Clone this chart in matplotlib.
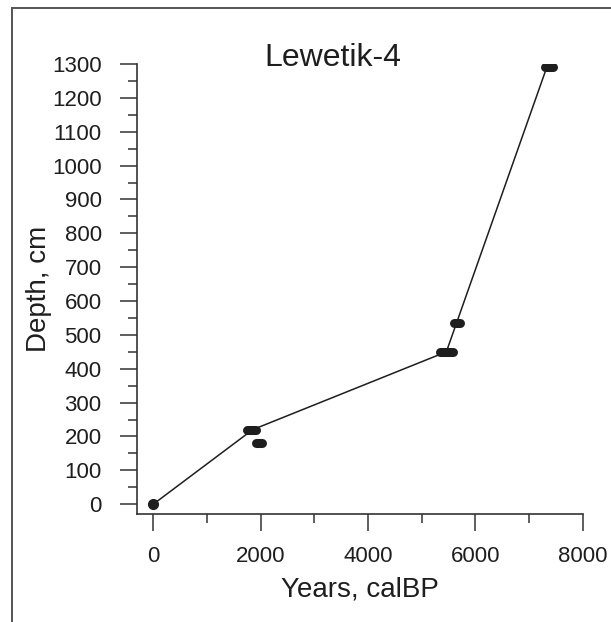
import numpy as np
import matplotlib.pyplot as plt
from matplotlib.ticker import MultipleLocator

plt.rcParams['font.family'] = ['Liberation Sans', 'DejaVu Sans']

# dated samples: age range (calBP) and depth (cm)
age_min = [0, 1750, 1905, 5335, 5610, 7290]
age_max = [0, 1910, 2025, 5575, 5710, 7440]
depth = [0, 220, 180, 450, 535, 1290]

# age-depth model line
model_age = [0, 1850, 5460, 7330]
model_depth = [0, 220, 450, 1290]

title = "Lewetik-4"
xticks = [0, 2000, 4000, 6000, 8000]
yticks = list(range(0, 1301, 100))

fig = plt.figure(figsize=(6.11, 6.22), dpi=100)
ax = fig.add_axes([0.2237, 0.1736, 0.730, 0.7235])

ink = '#1e1e1e'
ax.plot(model_age, model_depth, color=ink, lw=1.1, zorder=2)
for a0, a1, d in zip(age_min, age_max, depth):
    if a0 == a1:
        ax.plot([a0], [d], 'o', color=ink, ms=7, zorder=3)
    else:
        ax.plot([a0, a1], [d, d], color=ink, lw=6.5, solid_capstyle='round', zorder=3)

ax.set_xlim(-309, 8000)
ax.set_ylim(-29, 1300)
ax.set_xticks(xticks)
ax.set_yticks(yticks)
ax.xaxis.set_minor_locator(MultipleLocator(1000))
ax.yaxis.set_minor_locator(MultipleLocator(50))

for s in ['top', 'right']:
    ax.spines[s].set_visible(False)
for s in ['left', 'bottom']:
    ax.spines[s].set_color('#333333')
    ax.spines[s].set_linewidth(1.2)

ax.tick_params(which='major', length=12.2, width=1.1, color='#333333',
               labelsize=16, labelcolor=ink)
ax.tick_params(axis='y', which='major', pad=13)
ax.tick_params(axis='x', which='major', pad=11)
ax.tick_params(which='minor', length=6.5, width=1.1, color='#333333')

ax.set_xlabel("Years, calBP", fontsize=20, color=ink)
ax.set_ylabel("Depth, cm", fontsize=20, color=ink)
ax.xaxis.set_label_coords(0.5, -0.139)
ax.yaxis.set_label_coords(-0.19, 0.5)

fig.text(332.5 / 611, 1 - 65.7 / 622, title, ha='center', va='baseline',
         fontsize=23, color=ink)

# outer frame (left and top edges only)
fig.add_artist(plt.Line2D([12 / 611, 12 / 611], [0, 1 - 8 / 622],
                          color='#555555', lw=1.4))
fig.add_artist(plt.Line2D([12 / 611, 1], [1 - 8 / 622, 1 - 8 / 622],
                          color='#555555', lw=1.4))

fig.savefig('out.png', dpi=100)
